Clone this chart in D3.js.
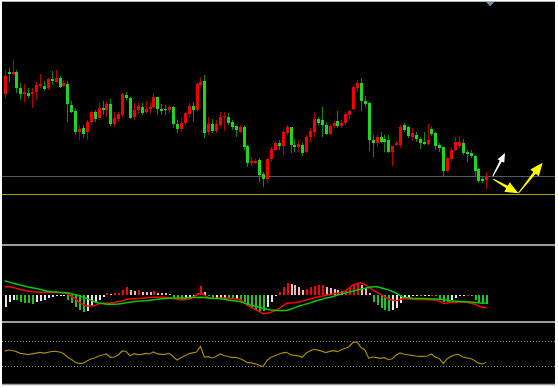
<!DOCTYPE html>
<html>
<head>
<meta charset="utf-8">
<script src="https://cdn.jsdelivr.net/npm/d3@7"></script>
<style>
  html, body { margin: 0; padding: 0; background: #fff; }
  svg { display: block; }
</style>
</head>
<body>
<div id="chart"></div>
<script>
'use strict'

// price bars (points)
const open = [
  156, 178, 176, 178, 162, 156, 157, 156, 158, 164,
  164, 162, 171, 168, 172, 164, 166, 145, 139, 118,
  122, 118, 128, 138, 132, 142, 140, 146, 126, 131,
  135, 155, 152, 133, 140, 143, 138, 141, 143, 153,
  141, 141, 140, 143, 126, 121, 127, 136, 144, 140,
  165, 169, 118, 126, 119, 125, 133, 133, 128, 124,
  118, 123, 104, 87, 87, 90, 76, 71, 91, 100,
  107, 104, 117, 123, 105, 103, 105, 98, 113, 118,
  131, 130, 125, 116, 124, 129, 124, 127, 135, 141,
  162, 167, 149, 147, 110, 107, 113, 111, 110, 98,
  105, 105, 125, 123, 113, 115, 111, 108, 106, 121,
  117, 105, 103, 79, 91, 100, 104, 107, 98, 97,
  94, 81, 71, 70
]
const high = [
  180, 182, 190, 180, 167, 166, 162, 162, 168, 176,
  169, 172, 179, 180, 174, 170, 169, 149, 142, 125,
  125, 130, 139, 140, 147, 149, 149, 151, 138, 138,
  157, 158, 153, 147, 147, 147, 149, 147, 157, 153,
  146, 145, 144, 144, 130, 132, 138, 147, 148, 167,
  173, 175, 133, 131, 130, 138, 138, 137, 130, 125,
  125, 125, 105, 93, 91, 92, 78, 92, 103, 108,
  110, 121, 125, 123, 111, 110, 107, 115, 122, 137,
  133, 143, 128, 126, 129, 139, 130, 138, 140, 164,
  170, 172, 154, 148, 115, 115, 118, 115, 115, 104,
  109, 125, 127, 124, 122, 118, 113, 118, 126, 123,
  118, 107, 103, 93, 102, 113, 114, 111, 100, 100,
  95, 82, 73, 78
]
const low = [
  152, 168, 175, 157, 150, 148, 152, 142, 150, 162,
  159, 160, 165, 167, 162, 163, 128, 137, 115, 110,
  112, 110, 125, 128, 130, 135, 133, 124, 123, 128,
  133, 150, 131, 130, 136, 135, 137, 137, 142, 135,
  135, 135, 137, 122, 117, 118, 125, 132, 128, 139,
  164, 112, 115, 117, 117, 123, 119, 125, 120, 113,
  117, 100, 83, 84, 86, 68, 63, 67, 88, 99,
  100, 95, 115, 97, 98, 98, 94, 97, 108, 113,
  125, 113, 115, 115, 122, 122, 122, 125, 131, 140,
  158, 139, 143, 99, 93, 103, 107, 98, 97, 84,
  104, 102, 118, 112, 109, 108, 101, 105, 105, 114,
  100, 98, 74, 78, 88, 99, 102, 95, 88, 92,
  74, 67, 67, 61
]
const close = [
  174, 176, 178, 162, 156, 158, 154, 158, 165, 166,
  161, 171, 169, 172, 163, 167, 146, 138, 118, 121,
  116, 128, 138, 131, 142, 140, 146, 126, 132, 136,
  156, 152, 132, 140, 144, 137, 141, 143, 153, 141,
  139, 140, 143, 126, 121, 127, 137, 144, 140, 166,
  168, 117, 126, 119, 126, 133, 134, 127, 123, 120,
  123, 103, 87, 89, 89, 75, 71, 91, 101, 107,
  104, 118, 123, 105, 103, 106, 97, 113, 119, 131,
  127, 125, 116, 124, 127, 124, 127, 136, 139, 163,
  167, 149, 146, 110, 107, 113, 108, 108, 98, 104,
  107, 123, 120, 114, 117, 111, 107, 106, 110, 116,
  104, 102, 79, 92, 100, 108, 108, 97, 96, 94,
  79, 69, 69, 74
]

// horizontal price levels: grey line, yellow line
const levels = [74, 56]

// drawn arrows, as [bar index, price]
const arrowFrom = [[124.7, 74], [124.8, 70.7], [131.2, 56.7]]
const arrowTo = [[127.8, 97], [131.2, 56.7], [137.4, 87.3]]
const arrowKind = ['white', 'yellow', 'yellow']

// MACD panel
const macdHist = [
  -11.7, -6.7, -5.0, -5.3, -6.7, -7.7, -8.3, -8.6, -6.7, -5.7,
  -5.0, -3.3, -1.7, -0.5, -0.4, -0.3, -5.0, -8.3, -11.7, -15.0,
  -16.7, -15.7, -11.0, -8.3, -5.0, -1.7, 2.0, 1.5, 2.0, 2.5,
  5.0, 7.7, 5.0, 4.3, 4.8, 3.3, 3.0, 2.8, 4.3, 2.3,
  2.0, 1.7, 1.5, -3.3, -4.3, -4.5, -3.3, -2.0, -1.0, 2.0,
  9.0, 3.0, -1.0, -4.0, -3.8, -3.6, -3.5, -4.0, -4.3, -4.0,
  -5.0, -7.0, -10.0, -13.0, -15.0, -15.5, -16.0, -12.0, -7.0, -1.0,
  3.0, 8.0, 12.0, 11.5, 10.0, 8.5, 5.5, 6.0, 8.5, 9.0,
  10.0, 10.3, 7.7, 6.7, 5.7, 5.0, 4.3, 5.0, 8.3, 11.0,
  12.3, 10.0, 6.7, 2.0, -6.7, -10.0, -13.3, -15.0, -15.7, -15.0,
  -13.3, -8.3, -3.3, -1.7, -1.0, -0.8, -1.0, -0.9, -0.8, 0.5,
  -0.7, -5.0, -6.7, -7.0, -5.0, -3.3, -0.8, -0.5, 0.5, -0.5,
  -5.0, -6.7, -8.3, -8.6
]
const macdLine = [
  8.3, 8.3, 7.7, 6.6, 5.6, 4.7, 3.7, 3.2, 3.0, 2.7,
  2.7, 2.7, 2.6, 2.5, 2.3, 2.0, 1.4, -1.3, -3.7, -7.5,
  -9.5, -11.0, -11.0, -10.4, -8.9, -8.3, -8.3, -8.2, -7.6, -6.5,
  -5.9, -4.5, -4.1, -3.8, -3.6, -3.3, -2.8, -2.4, -2.3, -2.3,
  -2.3, -2.3, -2.8, -3.5, -4.3, -4.9, -4.6, -4.3, -2.5, 0.0,
  1.6, 0.0, -2.8, -3.5, -3.2, -3.0, -3.1, -3.2, -3.5, -3.9,
  -4.3, -7.2, -10.4, -12.4, -14.3, -16.4, -18.8, -18.3, -17.2, -15.8,
  -13.6, -11.0, -8.3, -8.0, -7.8, -7.3, -6.1, -5.1, -4.0, -2.8,
  -1.9, -1.2, -0.2, 0.6, 1.2, 1.8, 2.9, 4.0, 7.0, 10.0,
  11.4, 12.1, 10.6, 8.0, 5.2, 2.9, 0.7, -1.6, -4.1, -5.0,
  -5.6, -4.4, -3.4, -3.8, -4.2, -4.4, -4.5, -4.6, -4.7, -4.8,
  -4.9, -6.1, -8.3, -8.0, -7.6, -7.4, -7.1, -6.7, -7.3, -8.3,
  -9.0, -10.9, -12.2, -12.7
]
const signalLine = [
  14.3, 13.1, 12.0, 11.0, 9.9, 9.0, 8.1, 7.3, 6.5, 5.7,
  4.8, 3.8, 3.2, 3.0, 2.7, 2.5, 2.2, 1.2, 0.3, -0.8,
  -2.1, -3.4, -5.1, -6.7, -8.0, -8.6, -9.3, -9.3, -9.3, -9.1,
  -8.4, -7.8, -7.2, -6.6, -6.2, -6.0, -5.8, -5.3, -4.7, -4.2,
  -3.8, -3.4, -3.2, -3.1, -3.0, -3.0, -3.2, -2.8, -2.5, -2.4,
  -2.3, -2.6, -3.0, -3.4, -3.6, -3.7, -4.3, -4.9, -5.5, -6.0,
  -6.6, -7.8, -9.0, -10.1, -11.2, -12.3, -13.3, -14.3, -15.0, -15.2,
  -15.4, -15.5, -15.2, -14.2, -12.9, -11.2, -10.1, -8.9, -7.9, -6.5,
  -5.3, -4.5, -2.9, -2.4, -1.3, -0.1, 0.9, 1.9, 2.9, 3.9,
  4.9, 6.0, 6.7, 7.5, 8.3, 8.2, 7.2, 6.2, 5.1, 3.5,
  1.9, -0.5, -2.4, -2.8, -3.2, -3.4, -3.5, -3.6, -3.7, -3.9,
  -4.0, -4.3, -4.8, -5.3, -6.1, -6.1, -6.4, -6.7, -6.8, -7.0,
  -7.4, -7.8, -8.2, -8.0
]

// oscillator panel (0..100, guides at 30 / 70)
const rsi = [
  53.9, 55.8, 55.0, 53.1, 50.3, 49.5, 48.2, 49.5, 50.8, 52.1,
  50.8, 51.9, 53.4, 53.6, 52.6, 50.2, 44.5, 40.9, 35.9, 34.3,
  34.3, 38.0, 41.3, 42.9, 46.1, 47.7, 49.4, 44.0, 44.5, 47.7,
  54.2, 53.4, 46.6, 49.8, 48.5, 48.9, 50.2, 49.4, 52.6, 49.4,
  48.9, 48.9, 50.5, 45.3, 39.6, 43.2, 46.4, 49.7, 51.3, 52.6,
  61.5, 44.5, 45.0, 42.9, 45.3, 49.4, 46.9, 45.3, 44.0, 44.0,
  42.1, 39.3, 35.3, 35.1, 33.5, 31.1, 29.1, 38.8, 44.2, 46.6,
  48.9, 51.3, 52.1, 48.2, 47.2, 46.4, 44.0, 51.0, 54.5, 57.0,
  55.5, 53.9, 51.5, 53.7, 54.7, 53.1, 56.3, 58.7, 61.5, 68.3,
  68.8, 59.7, 55.8, 42.4, 44.5, 43.4, 42.4, 43.5, 40.1, 41.7,
  47.7, 51.0, 48.9, 48.1, 47.2, 46.1, 45.6, 45.5, 46.1, 49.4,
  44.0, 42.1, 34.0, 41.3, 45.6, 48.1, 48.5, 44.5, 43.2, 42.1,
  38.8, 34.5, 33.2, 35.9
]
const rsiGuides = [70, 30]

const W = 558
const H = 387
const N = open.length

const svg = d3.select('#chart').append('svg')
  .attr('width', W)
  .attr('height', H)

svg.append('rect')
  .attr('x', 2).attr('y', 2)
  .attr('width', 553).attr('height', 383)
  .attr('fill', '#000')

// one slot per bar, plus empty slots on the right
const x = d3.scaleLinear().domain([0, 139]).range([4.7, 548.9])
const yPrice = d3.scaleLinear().domain([7, 247]).range([243, 3])
const yMacd = d3.scaleLinear().domain([-26, 49]).range([321, 246])
const yRsi = d3.scaleLinear().domain([0, 100]).range([384.5, 322.7])

const px = i => Math.round(x(i))

// price levels
svg.selectAll('line.level')
  .data(levels)
  .enter()
  .append('line')
  .attr('class', 'level')
  .attr('x1', 2).attr('x2', 555)
  .attr('y1', d => Math.round(yPrice(d)) + 0.5)
  .attr('y2', d => Math.round(yPrice(d)) + 0.5)
  .attr('stroke', (d, i) => i === 0 ? '#4e5b66' : '#a3a300')
  .attr('stroke-width', 1)

// candles
const bars = d3.range(N).map(i => ({ i, o: open[i], h: high[i], l: low[i], c: close[i] }))
const isUp = d => d.c >= d.o

const candles = svg.append('g').attr('shape-rendering', 'crispEdges')

candles.selectAll('line')
  .data(bars)
  .enter()
  .append('line')
  .attr('x1', d => px(d.i) + 0.5)
  .attr('x2', d => px(d.i) + 0.5)
  .attr('y1', d => yPrice(d.h))
  .attr('y2', d => yPrice(d.l))
  .attr('stroke', d => isUp(d) ? '#b00000' : '#0b8a0b')

candles.selectAll('rect')
  .data(bars)
  .enter()
  .append('rect')
  .attr('x', d => px(d.i) - 1)
  .attr('width', 3)
  .attr('y', d => yPrice(Math.max(d.o, d.c)))
  .attr('height', d => Math.max(1, Math.abs(yPrice(d.o) - yPrice(d.c))))
  .attr('fill', d => isUp(d) ? '#f00000' : '#1ed61e')

// arrows
function arrowPoints (from, to, head, half, shaft) {
  const x1 = x(from[0])
  const y1 = yPrice(from[1])
  const x2 = x(to[0])
  const y2 = yPrice(to[1])
  const len = Math.hypot(x2 - x1, y2 - y1)
  const ux = (x2 - x1) / len
  const uy = (y2 - y1) / len
  const nx = -uy
  const ny = ux
  const bx = x2 - ux * head
  const by = y2 - uy * head
  return [
    [x1 + nx * 0.5, y1 + ny * 0.5],
    [bx + nx * shaft, by + ny * shaft],
    [bx + nx * half, by + ny * half],
    [x2, y2],
    [bx - nx * half, by - ny * half],
    [bx - nx * shaft, by - ny * shaft],
    [x1 - nx * 0.5, y1 - ny * 0.5]
  ]
}

svg.selectAll('polygon.arrow')
  .data(arrowFrom)
  .enter()
  .append('polygon')
  .attr('class', 'arrow')
  .attr('points', (d, i) => {
    const white = arrowKind[i] === 'white'
    return arrowPoints(d, arrowTo[i], white ? 9 : 13, white ? 3.8 : 5.5, white ? 1.2 : 1.5).join(' ')
  })
  .attr('fill', (d, i) => arrowKind[i] === 'white' ? '#ffffff' : '#ffff00')

// top marker
const mx = x(N)
svg.append('path')
  .attr('d', `M${mx - 4},2L${mx + 4},2L${mx},6.5Z`)
  .attr('fill', '#7088a0')

// MACD histogram
function histColor (v, i) {
  const prev = i > 0 ? macdHist[i - 1] : -Infinity
  if (v >= 0) return v >= prev ? '#ff0000' : '#f5b5c0'
  return v <= prev ? '#22c322' : '#e6e6e6'
}

svg.append('g')
  .attr('shape-rendering', 'crispEdges')
  .selectAll('rect')
  .data(macdHist)
  .enter()
  .append('rect')
  .attr('x', (d, i) => px(i))
  .attr('width', 2)
  .attr('y', d => Math.min(yMacd(0), yMacd(d)))
  .attr('height', d => Math.max(1, Math.abs(yMacd(d) - yMacd(0))))
  .attr('fill', histColor)

const macdPath = d3.line().x((d, i) => x(i)).y(d => yMacd(d))

svg.append('path')
  .attr('d', macdPath(macdLine))
  .attr('fill', 'none')
  .attr('stroke', '#ff0000')
  .attr('stroke-width', 1.5)

svg.append('path')
  .attr('d', macdPath(signalLine))
  .attr('fill', 'none')
  .attr('stroke', '#00cc00')
  .attr('stroke-width', 1.5)

// oscillator
svg.selectAll('line.guide')
  .data(rsiGuides)
  .enter()
  .append('line')
  .attr('class', 'guide')
  .attr('x1', 2).attr('x2', 555)
  .attr('y1', d => Math.round(yRsi(d)) + 0.5)
  .attr('y2', d => Math.round(yRsi(d)) + 0.5)
  .attr('stroke', '#8a8a8a')
  .attr('stroke-dasharray', '1,2')

svg.append('path')
  .attr('d', d3.line().x((d, i) => x(i)).y(d => yRsi(d))(rsi))
  .attr('fill', 'none')
  .attr('stroke', '#a48c08')
  .attr('stroke-width', 1.2)

// panel borders
const borders = [
  { y: 1.5, w: 1, c: '#b4b4b4' },
  { y: 245, w: 2, c: '#9c9c9c' },
  { y: 322, w: 2, c: '#9c9c9c' },
  { y: 384.5, w: 1.5, c: '#9c9c9c' }
]
svg.selectAll('line.border')
  .data(borders)
  .enter()
  .append('line')
  .attr('class', 'border')
  .attr('x1', 2).attr('x2', 555)
  .attr('y1', d => d.y).attr('y2', d => d.y)
  .attr('stroke', d => d.c)
  .attr('stroke-width', d => d.w)
</script>
</body>
</html>
